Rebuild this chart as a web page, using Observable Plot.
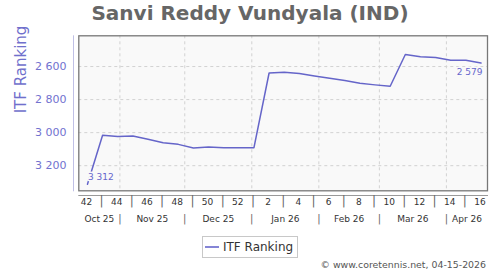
<!DOCTYPE html>
<html>
<head>
<meta charset="utf-8">
<script src="https://cdn.jsdelivr.net/npm/d3@7"></script>
<script src="https://cdn.jsdelivr.net/npm/@observablehq/plot@0.6"></script>
<style>
body{margin:0;background:#fff;font-family:"DejaVu Sans",sans-serif;}
#wrap{position:relative;width:500px;height:270px;overflow:hidden;background:#fff;}
#title{position:absolute;left:0;top:2.5px;width:500px;text-align:center;font-weight:bold;font-size:20px;line-height:20px;color:#666;white-space:nowrap;}
#chart{position:absolute;left:0;top:30px;}
#legend{position:absolute;left:202px;top:236px;width:94px;height:20px;border:1px solid #c8c8c8;background:#fff;font-size:12px;color:#333;}
#legend .sw{position:absolute;left:2px;top:9px;width:14px;border-top:2px solid #8585d6;}
#legend .lb{position:absolute;left:20px;top:3px;line-height:14px;white-space:nowrap;}
#footer{position:absolute;right:14px;top:260px;font-size:9.4px;line-height:10px;color:#555;white-space:nowrap;}
</style>
</head>
<body>
<div id="wrap">
  <div id="title">Sanvi Reddy Vundyala (IND)</div>
  <div id="chart"></div>
  <div id="legend"><span class="sw"></span><span class="lb">ITF Ranking</span></div>
  <div id="footer">© www.coretennis.net, 04-15-2026</div>
</div>
<script>
// ---- data ----
const dates = ["2025-10-17","2025-10-24","2025-10-31","2025-11-07","2025-11-14","2025-11-21","2025-11-28",
  "2025-12-05","2025-12-12","2025-12-19","2025-12-26","2026-01-02","2026-01-09","2026-01-16","2026-01-23",
  "2026-01-30","2026-02-06","2026-02-13","2026-02-20","2026-02-27","2026-03-06","2026-03-13","2026-03-20",
  "2026-03-27","2026-04-03","2026-04-10","2026-04-17"];
const weekNumbers = [42,43,44,45,46,47,48,49,50,51,52,1,2,3,4,5,6,7,8,9,10,11,12,13,14,15,16];
const rankings = [3312,3016,3024,3020,3040,3061,3071,3093,3087,3091,3091,3091,2639,2635,2642,2657,2671,2685,
  2701,2711,2719,2527,2541,2545,2562,2562,2579];
const yTicks = [2600,2800,3000,3200];
const monthLabels = ["Oct 25","Nov 25","Dec 25","Jan 26","Feb 26","Mar 26","Apr 26"];
const monthStartStrings = ["2025-11-01","2025-12-01","2026-01-01","2026-02-01","2026-03-01","2026-04-01"];
const xDomainStrings = ["2025-10-13","2026-04-20"];
const yDomain = [2414, 3352];

// ---- derived tables ----
const rows = dates.map((d, i) => ({date: new Date(d), week: weekNumbers[i], rank: rankings[i]}));
const xDomain = xDomainStrings.map(d => new Date(d));
const monthStarts = monthStartStrings.map(d => new Date(d));
const bounds = [xDomain[0], ...monthStarts, xDomain[1]];
const monthRows = monthLabels.map((t, i) => ({t, x: new Date((+bounds[i] + +bounds[i + 1]) / 2)}));
const weekLabelRows = rows.filter(r => r.week % 2 === 0);
const sepRows = rows.filter(r => r.week % 2 === 1);
const fmt = v => d3.format(",")(v).replace(/,/g, " ");
const first = rows[0], last = rows[rows.length - 1];

const plot = Plot.plot({
  width: 500, height: 200,
  marginTop: 5.3, marginBottom: 39.7, marginLeft: 78.3, marginRight: 13,
  style: {fontFamily: "DejaVu Sans", background: "transparent", overflow: "visible"},
  x: {type: "utc", domain: xDomain, axis: null},
  y: {domain: yDomain, reverse: true, axis: null},
  marks: [
    Plot.frame({fill: "#f9f9f9", stroke: null}),
    Plot.ruleY(yTicks, {stroke: "#d2d2d2", strokeDasharray: "3,3"}),
    Plot.ruleX(monthStarts, {stroke: "#d2d2d2", strokeDasharray: "3,3"}),
    Plot.line(rows, {x: "date", y: "rank", stroke: "#6565c9", strokeWidth: 1.5}),
    Plot.text([first], {x: "date", y: "rank", text: d => fmt(d.rank), textAnchor: "start", dx: 0.5, dy: -7,
      fontSize: 9, fill: "#6666cc", stroke: "#f9f9f9", strokeWidth: 3}),
    Plot.text([last], {x: "date", y: "rank", text: d => fmt(d.rank), textAnchor: "end", dx: 1.5, dy: 9,
      fontSize: 9, fill: "#6666cc", stroke: "#f9f9f9", strokeWidth: 3}),
    Plot.frame({stroke: "#777", strokeWidth: 1.3}),
    Plot.frame({anchor: "left", dx: -5.3, stroke: "#c0c0e6"}),
    Plot.frame({anchor: "bottom", dy: 4.7, stroke: "#999"}),
    Plot.text(yTicks, {y: d => d, text: fmt, frameAnchor: "left", textAnchor: "end", dx: -12.3,
      fontSize: 11, fill: "#7272cf"}),
    Plot.text(["ITF Ranking"], {frameAnchor: "left", rotate: -90, dx: -57.6, fontSize: 15, fill: "#7070cc"}),
    Plot.text(weekLabelRows, {x: "date", text: d => String(d.week), frameAnchor: "bottom", dy: 14, dx: -1,
      fontSize: 9, fill: "#333"}),
    Plot.text(sepRows, {x: "date", text: () => "|", frameAnchor: "bottom", dy: 14, dx: -1, fontSize: 12, fill: "#666"}),
    Plot.text(monthRows, {x: "x", text: "t", frameAnchor: "bottom", dy: 31, fontSize: 9, fill: "#333"}),
    Plot.text(monthStarts, {x: d => d, text: () => "|", frameAnchor: "bottom", dy: 31, fontSize: 10, fill: "#666"})
  ]
});
document.getElementById("chart").appendChild(plot);
</script>
</body>
</html>
